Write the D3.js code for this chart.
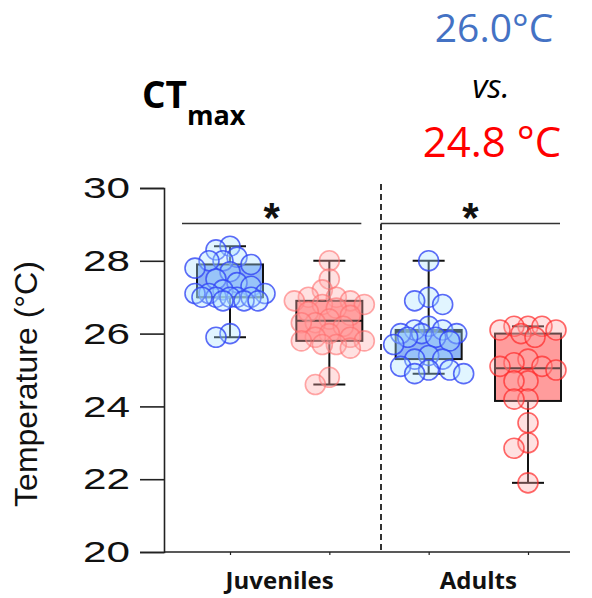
<!DOCTYPE html>
<html><head><meta charset="utf-8">
<script src="https://cdn.jsdelivr.net/npm/d3@7"></script>
<style>html,body{margin:0;padding:0;background:#fff;}svg{display:block;}</style>
</head><body>
<svg id="chart" width="592" height="598"></svg>
<script>
// ---- data ----
const groups = ["Juveniles", "Adults"];
const boxKeys = ["J-blue", "J-red", "A-blue", "A-red"];
const yTicks = [20, 22, 24, 26, 28, 30];
// box stats: [whiskerLow, Q1, median, Q3, whiskerHigh]
const statsJuvBlue = [25.9, 27.0, 27.0, 27.9, 28.4];
const statsJuvRed  = [24.6, 25.8, 26.35, 26.9, 28.0];
const statsAduBlue = [24.9, 25.3, 26.05, 26.1, 28.0];
const statsAduRed  = [21.9, 24.15, 25.05, 26.0, 26.2];
const ptsJuvBlue = [28.4, 28.3, 28.1, 28.0, 28.0, 27.9, 27.8, 27.7, 27.5, 27.4, 27.3, 27.2, 27.1, 27.1, 27.1, 27.0, 27.0, 27.0, 27.0, 27.0, 26.9, 26.9, 26.9, 26.0, 25.9];
const ptsJuvRed  = [28.0, 27.5, 27.2, 27.0, 27.0, 26.9, 26.9, 26.8, 26.8, 26.7, 26.6, 26.5, 26.4, 26.3, 26.3, 26.2, 26.0, 25.9, 25.9, 25.8, 25.8, 25.7, 25.7, 25.6, 24.8, 24.6];
const ptsAduBlue = [28.0, 27.0, 26.9, 26.8, 26.2, 26.1, 26.1, 26.0, 26.0, 26.0, 25.9, 25.9, 25.8, 25.7, 25.4, 25.3, 25.3, 25.1, 25.0, 25.0, 24.9, 24.9];
const ptsAduRed  = [26.2, 26.2, 26.2, 26.1, 26.1, 26.0, 25.9, 25.3, 25.2, 25.1, 25.1, 25.0, 24.7, 24.7, 24.2, 24.2, 23.55, 23.0, 22.85, 21.9];
const meanBlue = "26.0°C";
const meanRed = "24.8 °C";

const svg = d3.select("#chart");
const y = d3.scaleLinear().domain([20, 30]).range([552, 188]);
const x = d3.scalePoint().domain(boxKeys).range([230, 528]);

const boxes = [
  {key: "J-blue", stats: statsJuvBlue, pts: ptsJuvBlue, fill: "#8fb4f4", pStroke: "rgba(50,70,245,0.8)", pFill: "rgba(170,225,255,0.35)"},
  {key: "J-red",  stats: statsJuvRed,  pts: ptsJuvRed,  fill: "#ff9c9c", pStroke: "rgba(255,110,110,0.6)", pFill: "rgba(255,170,170,0.35)"},
  {key: "A-blue", stats: statsAduBlue, pts: ptsAduBlue, fill: "#8fb4f4", pStroke: "rgba(50,70,245,0.8)", pFill: "rgba(170,225,255,0.35)"},
  {key: "A-red",  stats: statsAduRed,  pts: ptsAduRed,  fill: "#ff9c9c", pStroke: "rgba(255,40,40,0.7)", pFill: "rgba(255,170,170,0.35)"}
];

// ---- axes ----
const yAxis = svg.append("g").attr("transform", "translate(164,0)")
  .call(d3.axisLeft(y).tickValues(yTicks).tickSize(24).tickPadding(10).tickFormat(d3.format("d")));
yAxis.select(".domain").attr("stroke", "#222").attr("stroke-width", 1.6);
yAxis.selectAll(".tick line").attr("stroke", "#222").attr("stroke-width", 1.6);
yAxis.selectAll(".tick text")
  .attr("font-family", "Liberation Sans, Arial, sans-serif")
  .attr("font-size", 30).attr("fill", "#111")
  .attr("textLength", 47).attr("lengthAdjust", "spacingAndGlyphs");

const xAxis = svg.append("g").attr("transform", "translate(0,552)")
  .call(d3.axisBottom(x).tickSize(3).tickFormat(""));
xAxis.select(".domain").remove();
xAxis.selectAll(".tick line").attr("stroke", "#222").attr("stroke-width", 1.2);
svg.append("line").attr("x1", 164).attr("x2", 570).attr("y1", 552).attr("y2", 552)
  .attr("stroke", "#222").attr("stroke-width", 1.6);

svg.append("text").attr("transform", "translate(37,384) rotate(-90)")
  .attr("text-anchor", "middle")
  .attr("font-family", "Liberation Sans, Arial, sans-serif")
  .attr("font-size", 32).attr("fill", "#111")
  .text("Temperature (°C)");

// group labels
groups.forEach((g, i) => {
  const cx = (x(boxKeys[i * 2]) + x(boxKeys[i * 2 + 1])) / 2;
  svg.append("text").attr("x", cx).attr("y", 589).attr("text-anchor", "middle")
    .attr("font-family", "Open Sans, sans-serif").attr("font-weight", 700)
    .attr("font-size", 24).attr("fill", "#111").text(g);
});

// divider
const divX = Math.round((x("J-red") + x("A-blue")) / 2) + 2;
svg.append("line").attr("x1", divX).attr("x2", divX).attr("y1", 184).attr("y2", 550)
  .attr("stroke", "#000").attr("stroke-width", 1.6).attr("stroke-dasharray", "6,4");

// ---- boxes ----
const bw = 66, cap = 16;
boxes.forEach(b => {
  const cx = x(b.key), s = b.stats;
  const g = svg.append("g");
  g.append("line").attr("x1", cx).attr("x2", cx).attr("y1", y(s[0])).attr("y2", y(s[4]))
    .attr("stroke", "#111").attr("stroke-width", 2);
  [s[0], s[4]].forEach(v => g.append("line").attr("x1", cx - cap).attr("x2", cx + cap)
    .attr("y1", y(v)).attr("y2", y(v)).attr("stroke", "#111").attr("stroke-width", 2));
  g.append("rect").attr("x", cx - bw / 2).attr("width", bw)
    .attr("y", y(s[3])).attr("height", y(s[1]) - y(s[3]))
    .attr("fill", b.fill).attr("stroke", "#111").attr("stroke-width", 2);
  g.append("line").attr("x1", cx - bw / 2).attr("x2", cx + bw / 2)
    .attr("y1", y(s[2])).attr("y2", y(s[2])).attr("stroke", "#111").attr("stroke-width", 2);
});

// ---- points (deterministic beeswarm) ----
const r = 10, step = 7, minD = 11, maxOff = 35;
boxes.forEach(b => {
  const cx = x(b.key);
  const placed = [];
  b.pts.slice().sort((a, c) => c - a).forEach(v => {
    const py = y(v);
    let best = null, bestScore = -1;
    for (let k = 0; k <= Math.floor(maxOff / step) * 2; k++) {
      const off = (k % 2 === 0 ? 1 : -1) * Math.ceil(k / 2) * step;
      let md = Infinity;
      placed.forEach(p => { md = Math.min(md, Math.hypot(p.x - (cx + off), p.y - py)); });
      if (md >= minD) { best = off; break; }
      if (md > bestScore) { bestScore = md; best = off; }
    }
    placed.push({x: cx + best, y: py});
  });
  svg.append("g").selectAll("circle").data(placed).join("circle")
    .attr("cx", d => d.x).attr("cy", d => d.y).attr("r", r)
    .attr("fill", b.pFill).attr("stroke", b.pStroke).attr("stroke-width", 1.6);
});

// ---- significance ----
const sig = [["J-blue", "J-red"], ["A-blue", "A-red"]];
sig.forEach(([a, c]) => {
  const x1 = x(a) - 48, x2 = x(c) + 32;
  svg.append("line").attr("x1", x1).attr("x2", x2).attr("y1", 223.5).attr("y2", 223.5)
    .attr("stroke", "#333").attr("stroke-width", 1.5);
  svg.append("text").attr("x", (x1 + x2) / 2).attr("y", 232).attr("text-anchor", "middle")
    .attr("font-family", "Liberation Sans, Arial, sans-serif").attr("font-weight", 700)
    .attr("font-size", 42).attr("fill", "#111").text("*");
});

// ---- title & annotations ----
const t = svg.append("text").attr("x", 142).attr("y", 108)
  .attr("font-family", "Open Sans, sans-serif").attr("font-weight", 700).attr("fill", "#000");
t.append("tspan").attr("font-size", 37).text("CT");
t.append("tspan").attr("font-size", 27).attr("dy", 17).text("max");

svg.append("text").attr("x", 494).attr("y", 42).attr("text-anchor", "middle")
  .attr("font-family", "Open Sans, sans-serif").attr("font-size", 39).attr("fill", "#4472c4").text(meanBlue);
svg.append("text").attr("x", 491).attr("y", 98).attr("text-anchor", "middle")
  .attr("font-family", "Open Sans, sans-serif").attr("font-style", "italic")
  .attr("font-size", 33).attr("fill", "#000").text("vs.");
svg.append("text").attr("x", 492).attr("y", 157).attr("text-anchor", "middle")
  .attr("font-family", "Open Sans, sans-serif").attr("font-size", 42).attr("fill", "#ff0000").text(meanRed);
</script>
</body></html>
